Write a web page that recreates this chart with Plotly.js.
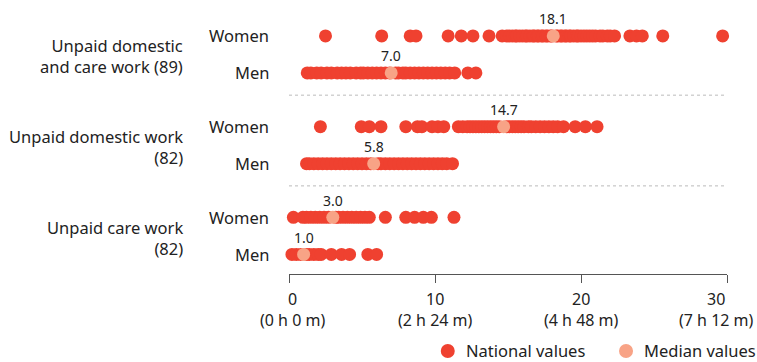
<!DOCTYPE html>
<html>
<head>
<meta charset="utf-8">
<script src="https://cdn.plot.ly/plotly-3.0.1.min.js"></script>
<style>html,body{margin:0;padding:0;background:#fff;}#chart{width:757px;height:362px;}</style>
</head>
<body>
<div id="chart"></div>
<script>
// ---- data ----
const groupLabels = ["Unpaid domestic<br>and care work (89)", "Unpaid domestic work<br>(82)", "Unpaid care work<br>(82)"];
const sexLabels = ["Women", "Men"];

const womenDomesticCare = [2.5, 6.35, 8.3, 8.7, 10.9, 11.8, 12.6, 13.7, 14.6, 14.9, 15.1, 15.3, 15.5, 15.6, 15.8, 16.0, 16.2, 16.3, 16.5, 16.7, 16.8, 17.0, 17.1, 17.3, 17.4, 17.6, 17.7, 17.9, 18.0, 18.3, 18.4, 18.6, 18.7, 18.9, 19.0, 19.2, 19.3, 19.5, 19.7, 19.8, 20.0, 20.2, 20.4, 20.6, 20.8, 21.0, 21.3, 21.5, 21.8, 22.0, 22.3, 23.35, 23.8, 24.2, 25.6, 29.7];
const menDomesticCare = [1.25, 1.5, 1.9, 2.2, 2.6, 2.9, 3.3, 3.6, 3.9, 4.2, 4.6, 4.9, 5.1, 5.4, 5.7, 6.0, 6.3, 6.6, 6.9, 7.3, 7.5, 7.8, 8.0, 8.3, 8.6, 8.9, 9.2, 9.5, 9.8, 10.1, 10.4, 10.7, 11.0, 11.35, 12.25, 12.8];
const womenDomestic = [2.15, 4.95, 5.5, 6.3, 8.0, 8.8, 9.1, 9.8, 10.2, 10.6, 11.6, 11.9, 12.2, 12.4, 12.6, 12.8, 13.0, 13.2, 13.4, 13.6, 13.8, 14.0, 14.2, 14.4, 14.9, 15.1, 15.3, 15.5, 15.7, 15.9, 16.1, 16.4, 16.6, 16.9, 17.2, 17.5, 17.8, 18.1, 18.4, 18.8, 19.6, 20.3, 21.1];
const menDomestic = [1.2, 1.4, 1.7, 2.0, 2.3, 2.6, 2.9, 3.2, 3.5, 3.8, 4.1, 4.4, 4.7, 5.0, 5.3, 5.6, 6.1, 6.3, 6.6, 6.9, 7.2, 7.5, 7.8, 8.1, 8.4, 8.7, 9.0, 9.3, 9.6, 9.9, 10.2, 10.5, 10.8, 11.2];
const womenCare = [0.3, 0.95, 1.2, 1.5, 1.8, 2.1, 2.4, 2.7, 3.2, 3.4, 3.7, 4.0, 4.3, 4.6, 4.9, 5.2, 5.5, 6.6, 8.0, 8.6, 9.2, 9.75, 11.3];
const menCare = [0.2, 0.5, 0.8, 1.2, 1.4, 1.7, 2.0, 2.2, 2.9, 3.6, 4.15, 5.4, 6.0];

const medianValues = [18.1, 7.0, 14.7, 5.8, 3.0, 1.0];
const medianLabels = ["18.1", "7.0", "14.7", "5.8", "3.0", "1.0"];

const tickValues = [0, 10, 20, 30];
const tickNumbers = ["0", "10", "20", "30"];
const tickTimes = ["(0 h 0 m)", "(2 h 24 m)", "(4 h 48 m)", "(7 h 12 m)"];
const legendNames = ["National values", "Median values"];

// ---- layout helpers ----
const series = [womenDomesticCare, menDomesticCare, womenDomestic, menDomestic, womenCare, menCare];
const GROUP_STEP = 2.45, ROW_STEP = 1;
function rowPos(i) { return Math.floor(i / 2) * GROUP_STEP + (i % 2) * ROW_STEP; }

const RED = '#EF4130', PINK = '#F8A386';
const FONT = 'Noto Sans, Open Sans, sans-serif';
const TXT = '#222';

const nx = [], ny = [];
series.forEach((arr, i) => arr.forEach(v => { nx.push(v); ny.push(rowPos(i)); }));
const my = medianValues.map((v, i) => rowPos(i));

const traces = [
  {type: 'scatter', mode: 'markers', name: legendNames[0], x: nx, y: ny,
   marker: {color: RED, size: 13, line: {width: 0}}, cliponaxis: false, hoverinfo: 'x'},
  {type: 'scatter', mode: 'markers', name: legendNames[1], x: medianValues, y: my,
   marker: {color: PINK, size: 13, line: {width: 0}}, cliponaxis: false, hoverinfo: 'x'}
];

const annotations = [];
medianValues.forEach((v, i) => annotations.push({
  x: v, y: rowPos(i), xref: 'x', yref: 'y', text: medianLabels[i], showarrow: false,
  yshift: 17, font: {family: FONT, size: 14, color: TXT}
}));
series.forEach((arr, i) => annotations.push({
  x: -0.042, y: rowPos(i), xref: 'paper', yref: 'y', xanchor: 'right', text: sexLabels[i % 2],
  showarrow: false, font: {family: FONT, size: 16.5, color: TXT}
}));
groupLabels.forEach((g, k) => annotations.push({
  x: -0.238, y: k * GROUP_STEP + 0.55, xref: 'paper', yref: 'y', xanchor: 'right', align: 'right',
  text: g, showarrow: false, font: {family: FONT, size: 16.5, color: TXT}
}));
// two-line tick labels (last one nudged left to stay inside the page)
tickValues.forEach((t, i) => annotations.push({
  x: t, y: 0, xref: 'x', yref: 'paper', yanchor: 'middle', yshift: -35,
  xshift: i === tickValues.length - 1 ? -11 : (i === 0 ? 3 : 0),
  text: tickNumbers[i] + '<br>' + tickTimes[i], align: 'center',
  showarrow: false, font: {family: FONT, size: 16, color: TXT}
}));
// manual legend
const legendX = [0.399, 0.806];
const legendY = -0.303;
legendNames.forEach((n, i) => annotations.push({
  x: legendX[i], y: legendY, xref: 'paper', yref: 'paper', xanchor: 'left', yanchor: 'middle',
  text: n, showarrow: false, font: {family: FONT, size: 16.5, color: TXT}
}));

const shapes = [0, 1].map(k => ({
  type: 'line', xref: 'x', yref: 'y', x0: 0, x1: 30, y0: k * GROUP_STEP + 1.6, y1: k * GROUP_STEP + 1.6,
  line: {color: '#bbbbbb', width: 1, dash: 'dot'}
}));
[RED, PINK].forEach((c, i) => shapes.push({
  type: 'circle', xref: 'paper', yref: 'paper', xsizemode: 'pixel', ysizemode: 'pixel',
  xanchor: legendX[i], yanchor: legendY, x0: -23, x1: -9, y0: -7, y1: 7,
  fillcolor: c, line: {width: 0}
}));

const layout = {
  width: 757, height: 362,
  margin: {l: 289.3, r: 29.7, t: 20, b: 88},
  paper_bgcolor: '#fff', plot_bgcolor: '#fff',
  font: {family: FONT, size: 15, color: TXT},
  xaxis: {range: [0, 30], tickvals: tickValues, showticklabels: false, showgrid: false, zeroline: false,
          showline: true, linecolor: '#555', linewidth: 1, ticks: 'outside', ticklen: 8, tickcolor: '#555',
          fixedrange: true, automargin: false},
  yaxis: {range: [6.43, -0.43], showgrid: false, zeroline: false, showticklabels: false, showline: false, fixedrange: true, automargin: false},
  showlegend: false,
  annotations: annotations,
  shapes: shapes
};

Plotly.newPlot('chart', traces, layout, {displayModeBar: false, staticPlot: true});
</script>
</body>
</html>
